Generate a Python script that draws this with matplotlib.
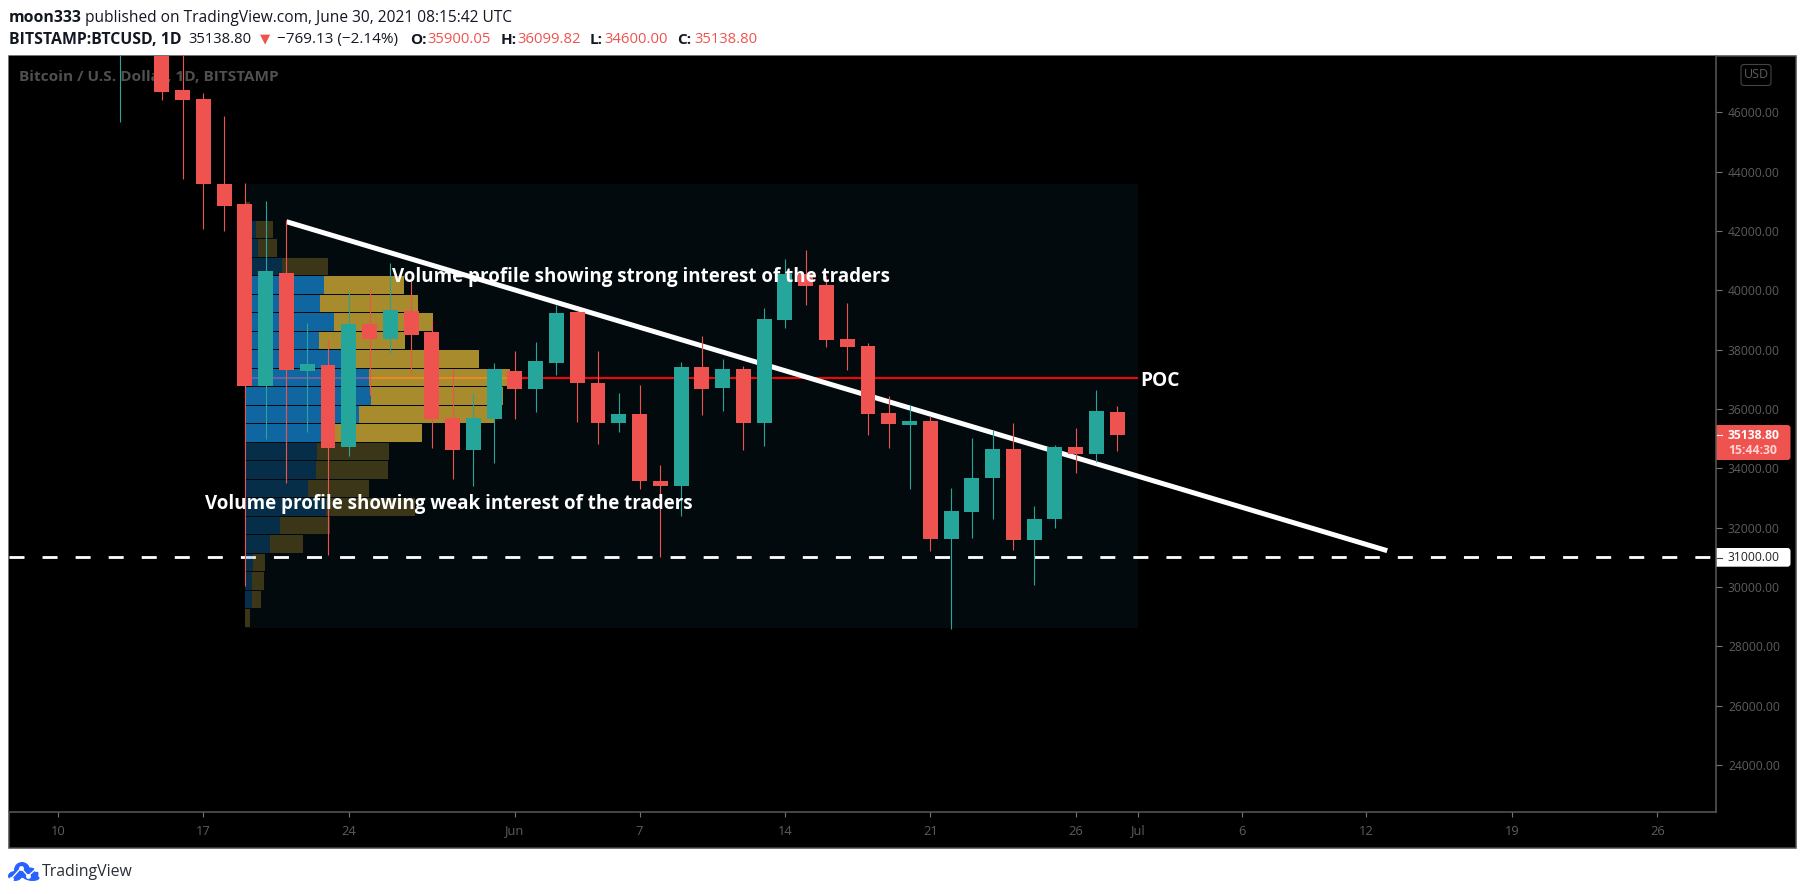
import numpy as np
import matplotlib
matplotlib.use("Agg")
import matplotlib.pyplot as plt
from matplotlib.patches import Rectangle, FancyBboxPatch, Ellipse
from matplotlib.lines import Line2D
from matplotlib.transforms import IdentityTransform

W, H = 1805, 894
UI_FONT = ["Open Sans", "DejaVu Sans"]
NOTE_FONT = ["Open Sans", "DejaVu Sans"]
DAY_PX = 20.77

# candles: day offset from May 10
days = [3, 5, 6, 7, 8, 9, 10, 11, 12, 13, 14, 15, 16, 17, 18, 19, 20, 21, 22, 23, 24, 25, 26, 27,
        28, 29, 30, 31, 32, 33, 34, 35, 36, 37, 38, 39, 40, 41, 42, 43, 44, 45, 46, 47, 48, 49, 50, 51]
opens = [49500, 49900, 46751, 46448, 43584, 42910, 36775, 40585, 37270, 37485, 34730, 38875, 38360, 39300, 38600, 35700,
         34620, 35665, 37280, 36675, 37550, 39270, 36880, 35530, 35840, 33580, 33410, 37415, 36710, 37350, 35530, 39000,
         40550, 40180, 38360, 38120, 35870, 35465, 35600, 31630, 32530, 33680, 34650, 31590, 32290, 34720, 34480, 35900.05]
highs = [51500, 50700, 49000, 46650, 45875, 43620, 43010, 42370, 38900, 38330, 39955, 40010, 40920, 40350, 38950, 37350,
         36530, 37550, 37955, 38260, 39500, 39350, 37955, 36540, 36810, 34110, 37590, 38460, 37690, 37450, 39405, 41055,
         41360, 40520, 39570, 38220, 36440, 36140, 35770, 33340, 35030, 35295, 35530, 32735, 34785, 35365, 36640, 36099.82]
lows = [45683, 46415, 43752, 42075, 42000, 30046, 35000, 33520, 35240, 31080, 34430, 36470, 37865, 37210, 34700, 33640,
        33410, 34190, 35665, 35900, 37150, 35560, 34820, 35230, 33310, 31030, 32390, 35800, 35930, 34620, 34750, 38730,
        39500, 38090, 37320, 35120, 34680, 33310, 31220, 28590, 31650, 32290, 31250, 30070, 31990, 33850, 34220, 34600.00]
closes = [49700, 46695, 46415, 43584, 42852, 36775, 40650, 37320, 37520, 34700, 38875, 38360, 39340, 38500, 35665, 34620,
          35700, 37350, 36675, 37620, 39235, 36880, 35530, 35840, 33580, 33410, 37415, 36675, 37350, 35530, 39035, 40550,
          40140, 38330, 38090, 35840, 35500, 35600, 31630, 32570, 33680, 34650, 31590, 32290, 34720, 34480, 35930, 35138.80]

# volume profile rows, top row first
profile_top = 42990
profile_step = 623.5
up_vol = [0, 11, 13, 37, 79, 75, 89, 74, 102, 124, 126, 114, 88, 72, 71, 63, 81, 35, 25, 8, 7, 7, 0]
down_vol = [5, 17, 19, 46, 80, 98, 99, 86, 132, 141, 132, 135, 89, 72, 72, 61, 89, 50, 33, 12, 12, 9, 5]
value_area = [4, 12]  # first and last bright row

poc_price = 37055
level_price = 31000
last_price = 35138.80
trend_days = [11, 64]
trend_prices = [42313, 31226]
box_days = [9, 52]
box_prices = [28620, 43600]

price_ticks = list(range(24000, 46001, 2000))
date_ticks = [0, 7, 14, 22, 28, 35, 42, 49, 52, 57, 63, 70, 77]
date_labels = ["10", "17", "24", "Jun", "7", "14", "21", "26", "Jul", "6", "12", "19", "26"]

RED = "#ef5350"
TEAL = "#26a69a"
AXIS = "#5a5a5a"
TICK_TEXT = "#5d5d5d"


def fig_text(x, y, s, **kw):
    kw.setdefault("family", UI_FONT)
    kw.setdefault("fontsize", 10.7)
    kw.setdefault("color", "#131722")
    return fig.text(x / W, 1 - y / H, s, va="center", **kw)


def round_box(x0, y0, x1, y1, **kw):
    # pixel box measured from the top left corner of the picture
    box = FancyBboxPatch((x0, H - y1), x1 - x0, y1 - y0, boxstyle="round,pad=0,rounding_size=3",
                         transform=IdentityTransform(), **kw)
    fig.add_artist(box)


fig = plt.figure(figsize=(W / 100, H / 100), dpi=100, facecolor="white")

# black panel behind the chart and both scales
panel = Rectangle((8.5, H - 847.5), 1787.5, 792, transform=IdentityTransform(), facecolor="black",
                  edgecolor="#4a4a4a", linewidth=1.1, zorder=-3)
fig.add_artist(panel)

ax = fig.add_axes([9 / W, 1 - 812.3 / H, (1716 - 9) / W, (812.3 - 56) / H], facecolor="black")
ax.set_xlim(-2.36, 79.83)
ax.set_ylim(22410, 47897)

for side in ["top", "left"]:
    ax.spines[side].set_visible(False)
for side in ["right", "bottom"]:
    ax.spines[side].set_color(AXIS)
    ax.spines[side].set_linewidth(1.1)

ax.yaxis.tick_right()
ax.set_yticks(price_ticks)
ax.set_yticklabels([f"{p:.2f}" for p in price_ticks], family=UI_FONT, fontsize=8.7, color=TICK_TEXT)
ax.set_xticks(date_ticks)
ax.set_xticklabels(date_labels, family=UI_FONT, fontsize=9.3, color=TICK_TEXT)
ax.tick_params(axis="y", length=4.3, width=0.8, color="#777777", pad=4.3)
ax.tick_params(axis="x", length=3.8, width=0.8, color="#777777", pad=5)

# shaded range of the fixed volume profile
ax.add_patch(Rectangle((box_days[0], box_prices[0]), box_days[1] - box_days[0], box_prices[1] - box_prices[0],
                       facecolor="#020a0e", edgecolor="none", zorder=1))

ax.hlines(poc_price, box_days[0], box_days[1], color="#ff0000", linewidth=1.44, zorder=2)
ax.plot(trend_days, trend_prices, color="white", linewidth=3.6, solid_capstyle="butt", zorder=2)
ax.axhline(level_price, color="white", linewidth=2.0, dashes=(5.4, 6.5), dash_capstyle="butt", zorder=2)

# profile rows sit over the lines but under the candles
for i, (up, down) in enumerate(zip(up_vol, down_vol)):
    row_mid = profile_top - profile_step * (i + 0.5)
    bright = value_area[0] <= i <= value_area[1]
    ax.barh(row_mid, up / DAY_PX, left=box_days[0], height=profile_step * 0.94,
            color="#199df8", alpha=0.63 if bright else 0.25, linewidth=0, zorder=3)
    ax.barh(row_mid, down / DAY_PX, left=box_days[0] + up / DAY_PX, height=profile_step * 0.94,
            color="#e0b838", alpha=0.75 if bright else 0.26, linewidth=0, zorder=3)

for d, o, h, l, c in zip(days, opens, highs, lows, closes):
    col = TEAL if c >= o else RED
    ax.vlines(d, l, h, color=col, linewidth=0.8, zorder=4)
    ax.bar(d, abs(c - o), bottom=min(o, c), width=0.72, color=col, linewidth=0, zorder=5)

# drawing labels
ax.text(16.1, 40460, "Volume profile showing strong interest of the traders", family=NOTE_FONT,
        fontsize=13.5, fontweight="bold", color="white", va="center", zorder=6)
ax.text(7.1, 32790, "Volume profile showing weak interest of the traders", family=NOTE_FONT,
        fontsize=13.5, fontweight="bold", color="white", va="center", zorder=6)
ax.text(52.1, 36930, "POC", family=NOTE_FONT, fontsize=13.8, fontweight="bold", color="white", va="center", zorder=6)
ax.text(10 / 1707, 1 - 20.7 / 756.3, "Bitcoin / U.S. Dollar, 1D, BITSTAMP", transform=ax.transAxes, family=UI_FONT,
        fontsize=11.1, fontweight="bold", color="#505050", va="center", zorder=0)

# price scale tags, under the axes so the scale line stays on top
round_box(1712, 425, 1790.5, 460, facecolor=RED, edgecolor="none", zorder=-1)
round_box(1712, 548, 1790.5, 566.7, facecolor="white", edgecolor="none", zorder=-1)
fig_text(1728, 435.5, f"{last_price:.2f}", fontsize=8.7, fontweight="bold", color="white")
fig_text(1728, 451, "15:44:30", fontsize=8.7, fontweight="bold", color="#ffd6d5")
fig_text(1728, 557.5, f"{level_price:.2f}", fontsize=8.7, color="#222222")
fig.add_artist(Line2D([1716.5, 1722], [H - 434.5] * 2, transform=IdentityTransform(), color="white", linewidth=0.8))
fig.add_artist(Line2D([1716.5, 1722], [H - 557.5] * 2, transform=IdentityTransform(), color="#444444", linewidth=0.8))

round_box(1741, 64.5, 1771, 85.5, facecolor="none", edgecolor="#444444", linewidth=0.8)
fig_text(1756, 75, "USD", fontsize=9, color=TICK_TEXT, ha="center")

# header lines
fig_text(8.7, 17.5, "moon333", fontweight="bold", fontsize=11.4)
fig_text(84.7, 17.5, "published on TradingView.com, June 30, 2021 08:15:42 UTC", fontsize=11.2)
fig_text(8.7, 39.5, "BITSTAMP:BTCUSD, 1D", fontweight="bold", fontsize=11.4)
fig_text(188, 39.5, "35138.80")
fig_text(259.5, 38.5, "▼", color=RED, fontsize=9.5)
fig_text(277, 39.5, "−769.13 (−2.14%)", fontsize=11)
for lab_x, lab, val_x, val in [(410, "O:", 427.5, "35900.05"), (501, "H:", 517, "36099.82"),
                               (590, "L:", 604.6, "34600.00"), (677.5, "C:", 694, "35138.80")]:
    fig_text(lab_x, 39.5, lab, fontweight="bold", fontsize=11)
    fig_text(val_x, 39.5, val, color=RED)

# footer logo
for cx, cy, ew, eh in [(15, 876, 14, 10), (30, 874, 17, 13), (22, 870, 16, 16), (33, 878, 13, 6)]:
    fig.add_artist(Ellipse((cx, H - cy), ew, eh, transform=IdentityTransform(), facecolor="#2962ff", edgecolor="none"))
fig.add_artist(Line2D([11, 21, 28, 36], [H - 879, H - 868, H - 876, H - 869], transform=IdentityTransform(),
                      color="white", linewidth=1.0, marker="o", markersize=2.5))
fig_text(42, 872.5, "TradingView", fontsize=11.4, color="#2a2e39")

fig.savefig("out.png", dpi=100, facecolor="white")
